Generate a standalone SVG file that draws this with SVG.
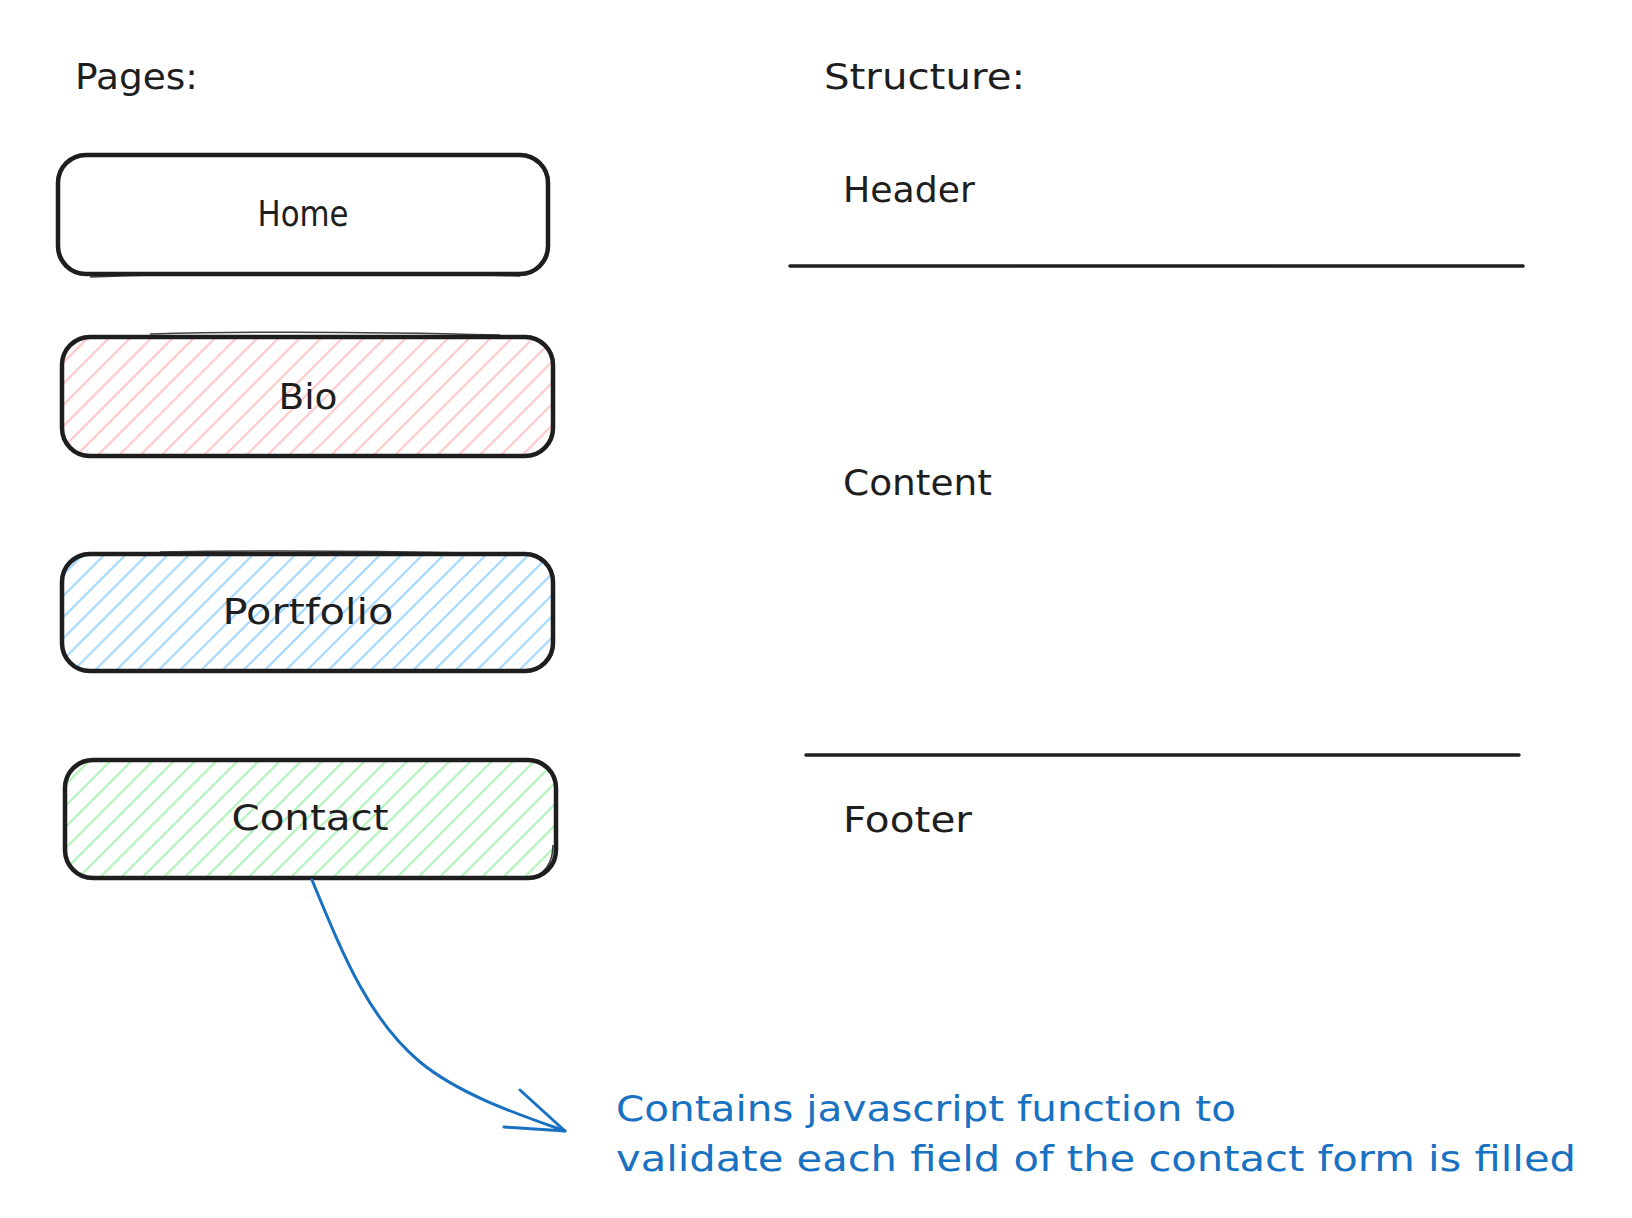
<svg xmlns="http://www.w3.org/2000/svg" width="1632" height="1218" viewBox="0 0 1632 1218">
<style>
.bg{fill:#ffffff}
.box{fill:none;stroke:#1e1e1e;stroke-width:4.5;stroke-linejoin:round}
.box2{fill:none;stroke:#1e1e1e;stroke-width:1.6;opacity:0.85}
.t{font-family:"DejaVu Sans","Liberation Sans",sans-serif;font-size:36px;fill:#1e1e1e}
.c{text-anchor:middle}
.blue{fill:#1971c2}
.rule{stroke:#1e1e1e;stroke-width:3.5;stroke-linecap:round}
.arrow{fill:none;stroke:#1971c2;stroke-width:3;stroke-linecap:round;stroke-linejoin:round}
</style>
<defs>
<pattern id="hPink" patternUnits="userSpaceOnUse" width="15" height="15" patternTransform="rotate(45)"><line x1="1" y1="0" x2="1" y2="15" stroke="#ffc9c9" stroke-width="2.4"/></pattern>
<pattern id="hBlue" patternUnits="userSpaceOnUse" width="15" height="15" patternTransform="rotate(45)"><line x1="1" y1="0" x2="1" y2="15" stroke="#a5d8ff" stroke-width="2.4"/></pattern>
<pattern id="hGreen" patternUnits="userSpaceOnUse" width="15" height="15" patternTransform="rotate(45)"><line x1="1" y1="0" x2="1" y2="15" stroke="#b2f2bb" stroke-width="2.4"/></pattern>
</defs>
<rect class="bg" x="0" y="0" width="1632" height="1218"/>

<g id="labels">
<text class="t" x="75" y="89" textLength="123" lengthAdjust="spacingAndGlyphs">Pages:</text>
<text class="t" x="824" y="89" textLength="201" lengthAdjust="spacingAndGlyphs">Structure:</text>
</g>

<g id="home">
<rect class="box" x="58" y="155" width="490" height="119" rx="28"/>
<path class="box2" d="M90,277 C200,272 420,272 520,276"/>
<text class="t c" x="303" y="226" textLength="91" lengthAdjust="spacingAndGlyphs">Home</text>
</g>

<g id="bio">
<rect x="62" y="337" width="491" height="119" rx="28" fill="url(#hPink)"/>
<rect class="box" x="62" y="337" width="491" height="119" rx="28"/>
<path class="box2" d="M150,334 C260,331 380,332 500,335"/>
<text class="t c" x="308" y="409" textLength="59" lengthAdjust="spacingAndGlyphs">Bio</text>
</g>

<g id="portfolio">
<rect x="62" y="554" width="491" height="117" rx="28" fill="url(#hBlue)"/>
<rect class="box" x="62" y="554" width="491" height="117" rx="28"/>
<path class="box2" d="M160,552 C280,550 380,551 470,553"/>
<text class="t c" x="308" y="624" textLength="171" lengthAdjust="spacingAndGlyphs">Portfolio</text>
</g>

<g id="contact">
<rect x="65" y="760" width="491" height="118" rx="28" fill="url(#hGreen)"/>
<rect class="box" x="65" y="760" width="491" height="118" rx="28"/>
<path class="box2" d="M553,845 C553,860 548,874 528,879"/>
<text class="t c" x="310" y="830" textLength="157" lengthAdjust="spacingAndGlyphs">Contact</text>
</g>

<g id="structure">
<text class="t" x="843" y="202" textLength="132" lengthAdjust="spacingAndGlyphs">Header</text>
<line class="rule" x1="790" y1="266" x2="1523" y2="266"/>
<text class="t" x="843" y="495" textLength="149" lengthAdjust="spacingAndGlyphs">Content</text>
<line class="rule" x1="806" y1="755" x2="1519" y2="755"/>
<text class="t" x="843" y="832" textLength="129" lengthAdjust="spacingAndGlyphs">Footer</text>
</g>

<g id="connectors">
<path class="arrow" d="M312,880 C345,960 370,1020 420,1062 C460,1095 520,1115 565,1131"/>
<polyline class="arrow" points="520,1090 565,1131 504,1127"/>
</g>

<g id="note">
<text class="t blue" x="616" y="1121" textLength="620" lengthAdjust="spacingAndGlyphs">Contains javascript function to</text>
<text class="t blue" x="616" y="1171" textLength="960" lengthAdjust="spacingAndGlyphs">validate each field of the contact form is filled</text>
</g>
</svg>
